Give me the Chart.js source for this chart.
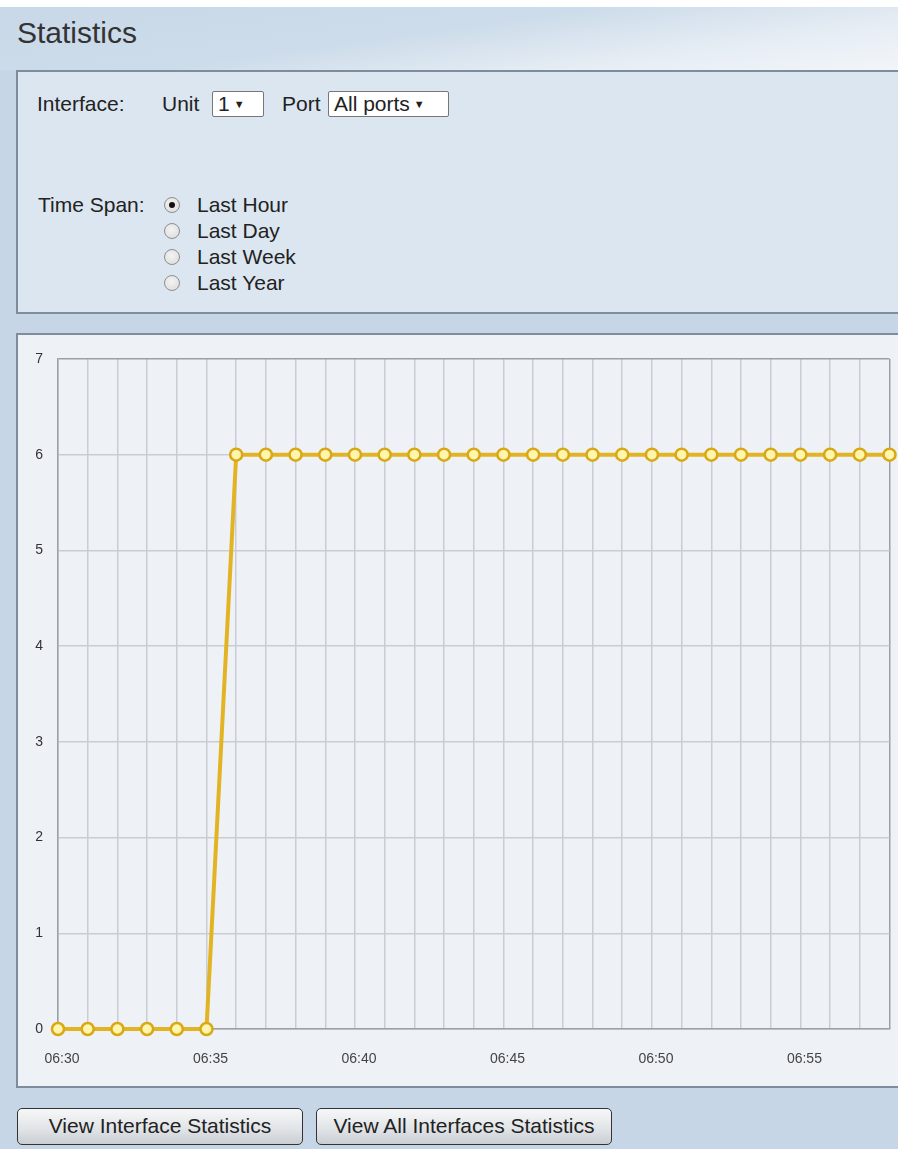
<!DOCTYPE html>
<html>
<head>
<meta charset="utf-8">
<script src="https://cdn.jsdelivr.net/npm/chart.js@4/dist/chart.umd.min.js"></script>
<style>
  html, body { margin: 0; padding: 0; }
  body {
    width: 898px; height: 1149px; overflow: hidden; position: relative;
    background: #c6d6e6;
    font-family: Arial, "Liberation Sans", sans-serif; color: #222;
  }
  .abs { position: absolute; }
  #header {
    left: 0; top: 7px; width: 898px; height: 63px;
    background: linear-gradient(172deg, #c8d8e8 0%, #cddcea 45%, #e6edf4 75%, #f2f5f9 100%);
  }
  #topStrip { left: 0; top: 0; width: 898px; height: 7px; background: #fff; }
  #title { left: 17px; top: 16px; font-size: 30px; color: #333; }
  #panel1 {
    left: 16px; top: 70px; width: 900px; height: 240px;
    background: #dce6f0; border: 2px solid #7d8d9d;
  }
  .lbl { font-size: 21px; line-height: 24px; }
  .sel {
    background: #fff; border: 1px solid #777; height: 26px; box-sizing: border-box;
    font-size: 21px; line-height: 24px; padding-left: 5px; border-radius: 2px;
  }
  .sel small { font-size: 11px; vertical-align: 3px; margin-left: 4px; }
  .radio {
    width: 14px; height: 14px; border-radius: 50%; border: 1px solid #8f8f8f;
    background: radial-gradient(circle at 45% 40%, #f4f4f4, #d8d8d8);
  }
  .radio.on::after {
    content: ""; position: absolute; left: 4px; top: 4px; width: 6px; height: 6px;
    border-radius: 50%; background: #111;
  }
  #panel2 {
    left: 16px; top: 333px; width: 900px; height: 751px;
    background: #eef2f7; border: 2px solid #7d8d9d; border-right: none;
  }
  #wrap { left: 17px; top: 334px; width: 881px; height: 751px; }
  .btn {
    top: 1108px; height: 37px; box-sizing: border-box;
    border: 1.5px solid #333; border-radius: 5px;
    background: linear-gradient(#f6f7f8, #e2e5e8 55%, #c9ced3);
    font-size: 21px; line-height: 34px; text-align: center; color: #222;
  }
</style>
</head>
<body>
<div id="topStrip" class="abs"></div>
<div id="header" class="abs"></div>
<div id="title" class="abs">Statistics</div>

<div id="panel1" class="abs"></div>
<div class="abs lbl" style="left:37px; top:92px;">Interface:</div>
<div class="abs lbl" style="left:162px; top:92px;">Unit</div>
<div class="abs sel" style="left:212px; top:91px; width:52px;">1<small>▼</small></div>
<div class="abs lbl" style="left:282px; top:92px;">Port</div>
<div class="abs sel" style="left:328px; top:91px; width:121px;">All ports<small>▼</small></div>

<div class="abs lbl" style="left:38px; top:193px;">Time Span:</div>
<div class="abs radio on" style="left:164px; top:197px;"></div>
<div class="abs lbl" style="left:197px; top:193px;">Last Hour</div>
<div class="abs radio" style="left:164px; top:223px;"></div>
<div class="abs lbl" style="left:197px; top:219px;">Last Day</div>
<div class="abs radio" style="left:164px; top:249px;"></div>
<div class="abs lbl" style="left:197px; top:245px;">Last Week</div>
<div class="abs radio" style="left:164px; top:275px;"></div>
<div class="abs lbl" style="left:197px; top:271px;">Last Year</div>

<div id="panel2" class="abs"></div>
<div id="wrap" class="abs"><canvas id="myChart" width="881" height="751"></canvas></div>

<div class="abs btn" style="left:17px; width:286px;">View Interface Statistics</div>
<div class="abs btn" style="left:316px; width:296px;">View All Interfaces Statistics</div>

<script>
// one point per minute, 06:30 .. 06:58
const times = ['06:30', '06:31', '06:32', '06:33', '06:34', '06:35', '06:36', '06:37', '06:38', '06:39',
    '06:40', '06:41', '06:42', '06:43', '06:44', '06:45', '06:46', '06:47', '06:48', '06:49',
    '06:50', '06:51', '06:52', '06:53', '06:54', '06:55', '06:56', '06:57', '06:58'];
const counts = [0, 0, 0, 0, 0, 0, 6, 6, 6, 6,
    6, 6, 6, 6, 6, 6, 6, 6, 6, 6,
    6, 6, 6, 6, 6, 6, 6, 6, 6];
// only these times get a label under the axis
const tickLabels = ['06:30', '06:35', '06:40', '06:45', '06:50', '06:55'];
const yTicks = [0, 1, 2, 3, 4, 5, 6, 7];

const gridColor = '#c9cdd3';
const edgeColor = '#9ba0a6';

new Chart('myChart', {
    type: 'line',
    data: {
        labels: times,
        datasets: [{
            data: counts,
            borderColor: '#e2b424',
            borderWidth: 4,
            tension: 0,
            pointRadius: 6,
            pointBorderWidth: 2.5,
            pointBackgroundColor: '#fff5ac',
            pointBorderColor: '#d9a814',
            clip: false
        }]
    },
    options: {
        responsive: false,
        animation: false,
        layout: { padding: { top: 25, right: 2, left: 0, bottom: 0 } },
        plugins: { legend: { display: false }, tooltip: { enabled: false } },
        scales: {
            x: {
                type: 'category',
                offset: false,
                afterFit: (scale) => {
                    scale.height = 56;
                    scale.paddingLeft = 0;
                    scale.paddingRight = 0;
                },
                grid: {
                    drawTicks: false,
                    lineWidth: 1.5,
                    color: (ctx) => ctx.index === times.length - 1 ? edgeColor : gridColor
                },
                border: { display: true, color: edgeColor, width: 1.5 },
                ticks: {
                    autoSkip: false,
                    maxRotation: 0,
                    minRotation: 0,
                    padding: 22,
                    labelOffset: 4,
                    color: '#444',
                    font: { family: 'Arial, "Liberation Sans", sans-serif', size: 14 },
                    callback: (v, i) => tickLabels.includes(times[i]) ? times[i] : ''
                }
            },
            y: {
                min: yTicks[0],
                max: yTicks[yTicks.length - 1],
                afterFit: (scale) => { scale.width = 41; },
                grid: {
                    drawTicks: false,
                    lineWidth: 1.5,
                    color: (ctx) => ctx.tick && ctx.tick.value === 7 ? edgeColor : gridColor
                },
                border: { display: true, color: edgeColor, width: 1.5 },
                ticks: {
                    stepSize: 1,
                    padding: 15,
                    color: '#333',
                    font: { family: 'Arial, "Liberation Sans", sans-serif', size: 14 }
                }
            }
        }
    }
});
</script>
</body>
</html>
